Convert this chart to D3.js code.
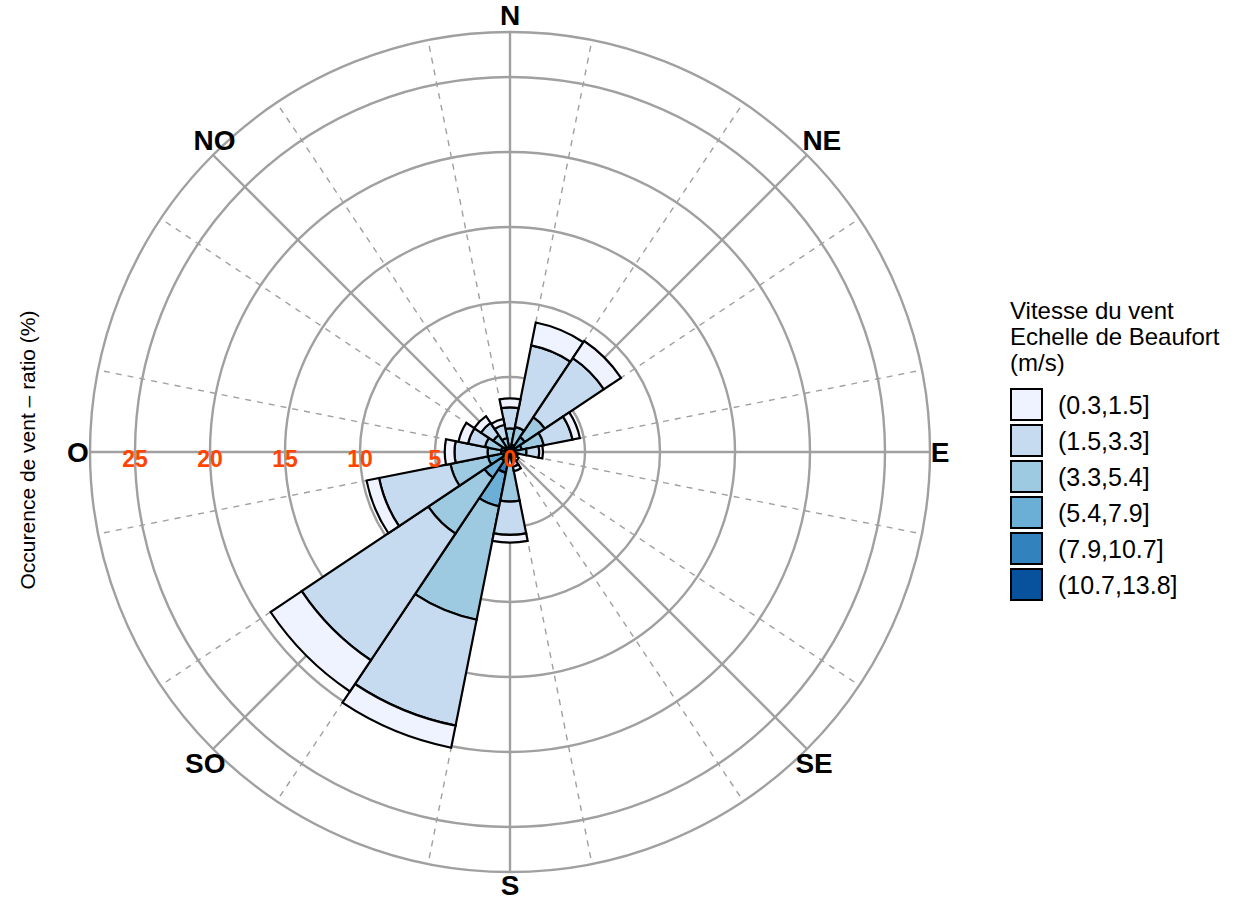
<!DOCTYPE html>
<html>
<head>
<meta charset="utf-8">
<script src="https://cdn.jsdelivr.net/npm/d3@7"></script>
<style>
  html, body { margin: 0; padding: 0; background: #fff; }
  svg { display: block; font-family: "Liberation Sans", Arial, sans-serif; }
</style>
</head>
<body>
<svg id="chart" width="1242" height="900"></svg>
<script>
// Wind directions (16 sectors, clockwise from north)
const directions = ["N","NNE","NE","ENE","E","ESE","SE","SSE","S","SSW","SW","WSW","W","WNW","NW","NNW"];

// Speed classes (m/s), Beaufort based
const speedClasses = ["(0.3,1.5]","(1.5,3.3]","(3.3,5.4]","(5.4,7.9]","(7.9,10.7]","(10.7,13.8]"];
const speedColors  = ["#eff3ff","#c6dbef","#9ecae1","#6baed6","#3182bd","#08519c"];

// Occurrence (%) per direction for each speed class
const s_0_3_1_5   = [0.60,1.55,1.37,0.50,0.25,0.15,0.20,0.30,0.51,1.50,2.50,0.85,0.65,0.65,0.54,0.40];
const s_1_5_3_3   = [1.40,5.54,4.73,1.95,0.85,0.25,0.30,0.55,2.22,7.20,10.15,4.85,2.20,1.15,0.98,0.90];
const s_3_3_5_4   = [1.20,1.20,1.60,1.50,0.75,0.12,0.15,0.35,3.00,7.70,4.50,2.55,0.90,1.10,0.90,0.65];
const s_5_4_7_9   = [0.30,0.35,0.80,0.55,0.25,0.03,0.05,0.10,0.22,2.30,1.35,1.00,0.40,0.45,0.35,0.22];
const s_7_9_10_7  = [0.08,0.15,0.30,0.20,0.08,0.00,0.00,0.00,0.07,1.00,0.50,0.35,0.15,0.12,0.08,0.06];
const s_10_7_13_8 = [0.00,0.01,0.10,0.05,0.02,0.00,0.00,0.00,0.02,0.40,0.20,0.15,0.05,0.03,0.02,0.02];
const speedSeries = [s_0_3_1_5, s_1_5_3_3, s_3_3_5_4, s_5_4_7_9, s_7_9_10_7, s_10_7_13_8];

// Radial axis
const radialTicks = [0, 5, 10, 15, 20, 25];
const radialMax = 28;

// Compass labels (French)
const compassLabels = ["N","NE","E","SE","S","SO","O","NO"];

const legendTitle = ["Vitesse du vent", "Echelle de Beaufort", "(m/s)"];
const axisTitle = "Occurence de vent \u2013 ratio (%)";

// ---------------------------------------------------------------
const svg = d3.select("#chart");
const cx = 510, cy = 452;
const rOuter = 420;

const r = d3.scaleLinear().domain([0, radialMax]).range([0, rOuter]);
const sector = 2 * Math.PI / directions.length;
const angle = d3.scaleBand().domain(directions).range([-sector / 2, 2 * Math.PI - sector / 2]).padding(0);

const g = svg.append("g").attr("transform", `translate(${cx},${cy})`);

// Grid: circles
const gridColor = "#a0a0a0";
g.selectAll("circle.grid")
  .data(radialTicks.filter(d => d > 0).concat([radialMax]))
  .join("circle")
  .attr("r", d => r(d))
  .attr("fill", "none")
  .attr("stroke", gridColor)
  .attr("stroke-width", 2.4);

// Grid: dashed sector boundaries
g.selectAll("line.bound")
  .data(directions)
  .join("line")
  .attr("x1", 0).attr("y1", 0)
  .attr("x2", d => r(radialMax) * Math.sin(angle(d)))
  .attr("y2", d => -r(radialMax) * Math.cos(angle(d)))
  .attr("stroke", gridColor)
  .attr("stroke-width", 1.4)
  .attr("stroke-dasharray", "6,6");

// Grid: solid compass spokes
const compassAngles = compassLabels.map((_, i) => i * Math.PI / 4);
g.selectAll("line.spoke")
  .data(compassAngles)
  .join("line")
  .attr("x1", 0).attr("y1", 0)
  .attr("x2", a => r(radialMax) * Math.sin(a))
  .attr("y2", a => -r(radialMax) * Math.cos(a))
  .attr("stroke", gridColor)
  .attr("stroke-width", 2.4);

// Stacked bars: strongest winds innermost
const rows = directions.map((d, i) => {
  const o = { dir: d };
  speedClasses.forEach((k, j) => { o[k] = speedSeries[j][i]; });
  return o;
});
const stackKeys = speedClasses.slice().reverse();
const stacked = d3.stack().keys(stackKeys)(rows);

const arc = d3.arc()
  .innerRadius(d => r(d[0]))
  .outerRadius(d => r(d[1]))
  .startAngle(d => angle(d.data.dir))
  .endAngle(d => angle(d.data.dir) + angle.bandwidth());

stacked.forEach(layer => {
  const color = speedColors[speedClasses.indexOf(layer.key)];
  g.append("g")
    .selectAll("path")
    .data(layer.filter(d => d[1] - d[0] > 0))
    .join("path")
    .attr("d", arc)
    .attr("fill", color)
    .attr("stroke", "#000")
    .attr("stroke-width", 2.2)
    .attr("stroke-linejoin", "miter");
});

// Radial tick labels along the west axis
g.selectAll("text.tick")
  .data(radialTicks)
  .join("text")
  .attr("x", d => -r(d))
  .attr("y", 7)
  .attr("text-anchor", "middle")
  .attr("dominant-baseline", "central")
  .attr("fill", "#ff4500")
  .attr("font-weight", "bold")
  .attr("font-size", 23)
  .text(d => d);

// Compass labels, placed just outside the outer ring
// (horizontal / vertical label distance from the centre, per label)
const labelRx = [0, 441, 430, 430, 0, 431, 432, 418];
const labelRy = [437, 441, 0, 440, 433, 440, 0, 441];
const capHalf = 10; // half the cap height at 28px, to centre glyphs on the anchor
g.selectAll("text.compass")
  .data(compassLabels)
  .join("text")
  .attr("x", (d, i) => labelRx[i] * Math.sin(compassAngles[i]))
  .attr("y", (d, i) => -labelRy[i] * Math.cos(compassAngles[i]) + capHalf)
  .attr("text-anchor", "middle")
  .attr("font-weight", "bold")
  .attr("font-size", 28)
  .attr("fill", "#000")
  .text(d => d);

// Axis title (rotated)
svg.append("text")
  .attr("transform", "translate(35,450) rotate(-90)")
  .attr("text-anchor", "middle")
  .attr("font-size", 21)
  .attr("fill", "#000")
  .text(axisTitle);

// Legend
const legend = svg.append("g").attr("transform", "translate(1010,0)");
legend.selectAll("text.title")
  .data(legendTitle)
  .join("text")
  .attr("x", 0)
  .attr("y", (d, i) => 319 + i * 26)
  .attr("font-size", 24)
  .attr("fill", "#000")
  .text(d => d);

const keySize = 33, keyStep = 36, keyTop = 388;
const keys = legend.selectAll("g.key")
  .data(speedClasses)
  .join("g")
  .attr("transform", (d, i) => `translate(0,${keyTop + i * keyStep})`);
keys.append("rect")
  .attr("x", 1).attr("y", 1)
  .attr("width", keySize - 2).attr("height", keySize - 2)
  .attr("fill", (d, i) => speedColors[i])
  .attr("stroke", "#000")
  .attr("stroke-width", 2);
keys.append("text")
  .attr("x", 48)
  .attr("y", keySize / 2)
  .attr("dominant-baseline", "central")
  .attr("font-size", 25)
  .attr("fill", "#000")
  .text(d => d);
</script>
</body>
</html>
